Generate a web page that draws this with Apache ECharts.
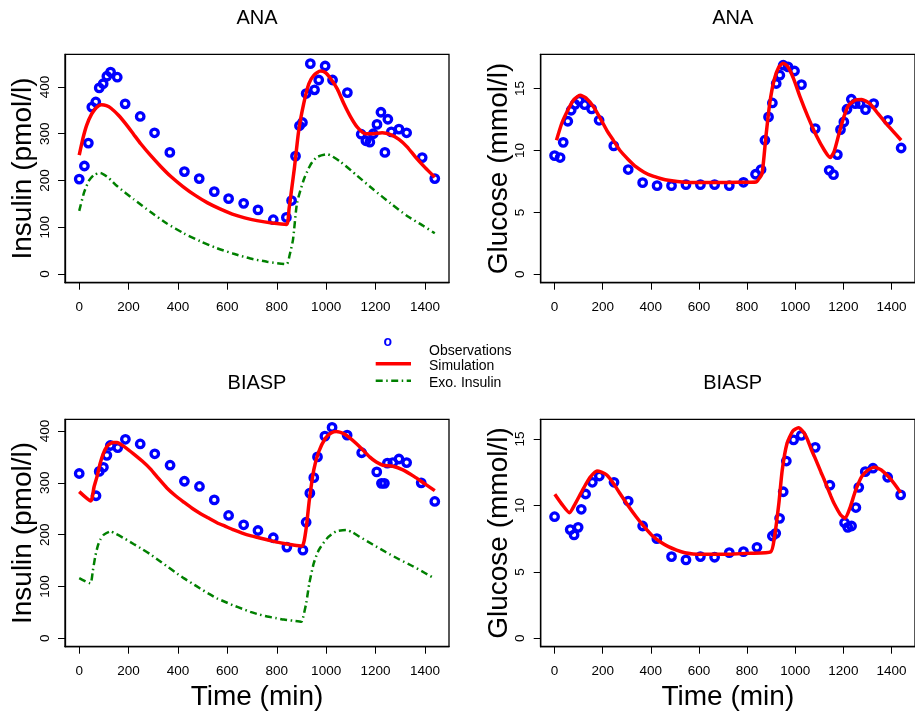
<!DOCTYPE html>
<html>
<head>
<meta charset="utf-8">
<script src="https://cdn.jsdelivr.net/npm/echarts@6/dist/echarts.min.js"></script>
<style>
html,body{margin:0;padding:0;background:#fff;}
#chart{width:915px;height:717px;}
</style>
</head>
<body>
<div id="chart"></div>
<script>
// ---------- tick labels ----------
const timeTicks = [0, 200, 400, 600, 800, 1000, 1200, 1400];
const insulinTicks = [0, 100, 200, 300, 400];
const glucoseTicks = [0, 5, 10, 15];
const panelTitles = ['ANA', 'ANA', 'BIASP', 'BIASP'];
const legendLabels = ['Observations', 'Simulation', 'Exo. Insulin'];

// ---------- ANA insulin ----------
const anaInsulinObs = [[0,203],[21,231],[37,280],[51,357],[67,368],[81,398],[97,407],[112,423],[127,432],[154,421],[186,364],[247,337],[305,302],[367,260],[426,219],[486,204],[547,176],[605,161],[666,151],[724,137],[786,116],[839,121],[860,157],[876,252],[892,317],[904,324],[919,386],[936,450],[953,394],[970,415],[996,445],[1026,415],[1086,388],[1142,299],[1161,285],[1177,282],[1191,300],[1206,320],[1222,346],[1238,260],[1250,331],[1264,304],[1295,310],[1326,302],[1389,249],[1440,204]];
const anaInsulinSim = [[0,254],[15,290],[30,318],[50,342],[70,356],[90,362],[110,360],[130,354],[160,339],[190,320],[220,299],[250,278],[290,253],[330,230],[370,209],[420,187],[470,168],[520,152],[570,139],[620,128],[670,120],[720,114],[780,109],[840,106],[850,140],[860,180],[872,229],[889,307],[909,364],[930,407],[950,425],[977,434],[997,431],[1018,418],[1045,396],[1072,364],[1099,336],[1126,314],[1159,300],[1193,300],[1227,302],[1261,298],[1295,288],[1328,272],[1362,250],[1400,228],[1440,207]];
const anaInsulinExo = [[0,135],[20,175],[40,200],[60,212],[85,216],[120,205],[153,188],[220,160],[288,133],[355,108],[423,87],[490,70],[558,55],[626,43],[693,33],[761,26],[840,21],[852,40],[866,74],[882,151],[909,201],[936,233],[963,250],[1004,256],[1058,240],[1126,210],[1193,180],[1261,151],[1328,124],[1390,104],[1440,87]];

// ---------- ANA glucose ----------
const anaGlucoseObs = [[0,9.59],[23,9.43],[36,10.66],[55,12.36],[69,13.25],[85,13.73],[102,14.06],[125,13.7],[154,13.36],[185,12.44],[246,10.37],[306,8.46],[366,7.4],[426,7.16],[486,7.16],[546,7.24],[606,7.24],[665,7.24],[726,7.16],[785,7.43],[835,8.08],[858,8.46],[874,10.83],[889,12.71],[905,13.84],[921,15.41],[936,16.08],[950,16.89],[970,16.75],[997,16.42],[1026,15.32],[1083,11.77],[1141,8.4],[1159,8.05],[1175,9.67],[1188,11.69],[1202,12.31],[1215,13.33],[1233,14.14],[1249,13.79],[1269,13.79],[1292,13.3],[1326,13.79],[1385,12.44],[1440,10.2]];
const anaGlucoseSim = [[8,10.83],[30,12.2],[55,13.25],[80,14.1],[106,14.46],[130,14.25],[163,13.5],[190,12.6],[217,11.63],[245,10.8],[271,10.02],[305,9.3],[339,8.67],[372,8.25],[406,7.94],[440,7.74],[473,7.59],[541,7.43],[608,7.41],[676,7.41],[760,7.43],[838,7.46],[845,7.6],[862,8.13],[878,11.1],[894,13.79],[912,15.67],[932,16.75],[950,17.05],[970,16.75],[993,15.81],[1020,14.33],[1053,12.71],[1087,11.23],[1121,10.02],[1145,9.43],[1161,9.88],[1182,11.37],[1202,12.71],[1222,13.65],[1249,14.06],[1276,14.11],[1310,13.79],[1344,12.98],[1390,11.9],[1440,10.83]];

// ---------- BIASP insulin ----------
const biaspInsulinObs = [[0,318],[68,275],[81,322],[98,330],[112,353],[126,372],[156,368],[187,384],[247,375],[306,356],[368,334],[426,303],[487,293],[547,267],[605,237],[666,219],[724,208],[786,194],[841,176],[906,170],[919,224],[934,280],[950,310],[965,350],[995,390],[1024,407],[1085,392],[1144,358],[1205,321],[1224,299],[1236,299],[1248,338],[1270,339],[1295,346],[1326,339],[1385,300],[1440,264]];
const biaspInsulinSim = [[0,283],[47,265],[60,292],[72,312],[85,338],[98,357],[112,370],[126,376],[139,378],[153,378],[185,369],[220,356],[255,342],[288,327],[320,309],[355,290],[390,275],[423,263],[457,251],[490,241],[524,232],[558,223],[592,216],[626,209],[660,203],[693,198],[727,194],[761,190],[795,186],[829,183],[866,180],[903,178],[919,212],[932,267],[950,325],[970,360],[997,386],[1020,396],[1041,399],[1074,394],[1098,386],[1122,376],[1150,363],[1176,350],[1203,340],[1230,334],[1270,332],[1311,325],[1357,312],[1400,298],[1440,285]];
const biaspInsulinExo = [[0,116],[45,106],[55,130],[65,158],[75,178],[85,190],[100,200],[126,206],[150,201],[185,192],[220,182],[255,172],[288,162],[320,151],[355,139],[390,127],[423,116],[457,106],[490,96],[524,86],[558,77],[592,70],[626,63],[660,57],[693,51],[727,46],[761,42],[795,39],[829,36],[865,34],[900,32],[906,39],[919,67],[932,106],[950,145],[970,170],[1004,193],[1040,206],[1081,209],[1108,204],[1135,196],[1189,181],[1243,166],[1297,152],[1351,139],[1400,126],[1440,115]];

// ---------- BIASP glucose ----------
const biaspGlucoseObs = [[0,9.15],[65,8.18],[81,7.78],[98,8.35],[111,9.71],[129,10.86],[157,11.74],[186,12.21],[247,11.74],[306,10.33],[366,8.45],[425,7.5],[486,6.15],[546,5.9],[606,6.15],[665,6.1],[726,6.45],[785,6.52],[841,6.85],[905,7.7],[919,7.9],[935,9.03],[950,11.03],[963,13.34],[993,14.93],[1025,15.27],[1083,14.37],[1144,11.52],[1205,8.7],[1218,8.35],[1234,8.45],[1252,9.84],[1264,11.36],[1291,12.54],[1323,12.8],[1384,12.12],[1438,10.79]];
const biaspGlucoseSim = [[1,10.84],[30,10.1],[62,9.45],[85,10.1],[109,10.91],[130,11.6],[150,12.16],[176,12.59],[195,12.5],[217,12.29],[245,11.65],[271,10.91],[305,10.0],[339,9.15],[372,8.4],[406,7.72],[440,7.25],[473,6.9],[507,6.64],[541,6.44],[575,6.35],[608,6.32],[676,6.32],[743,6.35],[810,6.4],[898,6.5],[914,7.65],[932,10.16],[946,12.67],[966,14.68],[990,15.6],[1013,15.85],[1035,15.5],[1050,15.0],[1067,14.2],[1080,13.67],[1107,12.5],[1121,11.91],[1148,10.7],[1161,10.16],[1188,9.3],[1207,9.03],[1229,9.9],[1249,11.03],[1276,12.16],[1303,12.67],[1330,12.87],[1357,12.67],[1400,11.9],[1438,10.96]];

// ---------- build chart ----------
const FONT = '"Liberation Sans", Arial, Helvetica, sans-serif';
const grids = [
  {left: 65, top: 54.3, width: 384, height: 228.4},
  {left: 540.7, top: 54.3, width: 384, height: 228.4},
  {left: 65, top: 419.3, width: 384, height: 227.4},
  {left: 540.7, top: 419.3, width: 384, height: 227.4}
];
const yRanges = [[-18.8, 470], [-0.68, 17.77], [-16.3, 422.6], [-0.63, 16.48]];
const yNames = ['Insulin (pmol/l)', 'Glucose (mmol/l)', 'Insulin (pmol/l)', 'Glucose (mmol/l)'];
const yTickSets = [insulinTicks, glucoseTicks, insulinTicks, glucoseTicks];

const chart = echarts.init(document.getElementById('chart'), null, {renderer: 'canvas'});
const plain = v => String(Math.round(v * 1000) / 1000);
const axisLineStyle = {show: true, onZero: false, lineStyle: {color: '#000', width: 1.3}};

const xAxes = grids.map((g, i) => ({
  type: 'value', gridIndex: i, min: -57.6, max: 1497.6, position: 'bottom',
  axisLine: axisLineStyle, splitLine: {show: false},
  axisTick: {show: true, inside: false, length: 7, lineStyle: {color: '#000', width: 1}, customValues: timeTicks},
  axisLabel: {customValues: timeTicks, formatter: plain, margin: 18, fontSize: 13.5, color: '#000', fontFamily: FONT},
  name: i >= 2 ? 'Time (min)' : '', nameLocation: 'middle', nameGap: 37,
  nameTextStyle: {fontSize: 28, color: '#000', fontFamily: FONT}
}));
const yAxes = grids.map((g, i) => ({
  type: 'value', gridIndex: i, min: yRanges[i][0], max: yRanges[i][1], position: 'left',
  axisLine: axisLineStyle, splitLine: {show: false},
  axisTick: {show: true, inside: false, length: 7, lineStyle: {color: '#000', width: 1}, customValues: yTickSets[i]},
  axisLabel: {customValues: yTickSets[i], formatter: plain, rotate: 90, margin: 13, fontSize: 13.5, color: '#000', fontFamily: FONT},
  name: yNames[i], nameLocation: 'middle', nameRotate: 90, nameGap: 26,
  nameTextStyle: {fontSize: 28, color: '#000', fontFamily: FONT}
}));

function obs(data, i) {
  return {type: 'scatter', xAxisIndex: i, yAxisIndex: i, data: data, symbol: 'circle', symbolSize: 7.5,
    itemStyle: {color: 'rgba(255,255,255,0)', borderColor: '#0000ff', borderWidth: 3.3, opacity: 1}, z: 2, silent: true};
}
function sim(data, i) {
  return {type: 'line', xAxisIndex: i, yAxisIndex: i, data: data, showSymbol: false, smooth: 0.2,
    lineStyle: {color: '#ff0000', width: 3.5}, z: 3, silent: true};
}
function exo(data, i) {
  return {type: 'line', xAxisIndex: i, yAxisIndex: i, data: data, showSymbol: false, smooth: 0.2,
    lineStyle: {color: '#008000', width: 2.5, type: [7, 3.5, 1.5, 3.5]}, z: 3, silent: true};
}

const series = [
  obs(anaInsulinObs, 0), sim(anaInsulinSim, 0), exo(anaInsulinExo, 0),
  obs(anaGlucoseObs, 1), sim(anaGlucoseSim, 1),
  obs(biaspInsulinObs, 2), sim(biaspInsulinSim, 2), exo(biaspInsulinExo, 2),
  obs(biaspGlucoseObs, 3), sim(biaspGlucoseSim, 3)
];

const titleCenters = [[257, 18], [732.7, 18], [257, 383.3], [732.7, 383.3]];
const graphics = titleCenters.map((c, i) => ({
  type: 'text', x: c[0], y: c[1], silent: true,
  style: {text: panelTitles[i], fill: '#000', font: '20px ' + FONT, textAlign: 'center', textVerticalAlign: 'middle'}
}));
// legend
graphics.push({type: 'text', x: 387.7, y: 342.5, silent: true,
  style: {text: 'o', fill: '#0000ff', font: 'bold 14px ' + FONT, textAlign: 'center', textVerticalAlign: 'middle'}});
graphics.push({type: 'line', silent: true, shape: {x1: 375.7, y1: 363.7, x2: 411, y2: 363.7},
  style: {stroke: '#ff0000', lineWidth: 3.5}});
graphics.push({type: 'line', silent: true, shape: {x1: 375.7, y1: 380.7, x2: 411, y2: 380.7},
  style: {stroke: '#008000', lineWidth: 2.5, lineDash: [7, 3.5, 1.5, 3.5]}});
const legendY = [350.7, 366.3, 382.7];
legendLabels.forEach((t, k) => graphics.push({type: 'text', x: 429, y: legendY[k], silent: true,
  style: {text: t, fill: '#000', font: '14px ' + FONT, textAlign: 'left', textVerticalAlign: 'middle'}}));

chart.setOption({
  animation: false,
  backgroundColor: '#fff',
  grid: grids.map(g => Object.assign({show: true, borderColor: '#000', borderWidth: 1.3, backgroundColor: 'transparent'}, g)),
  xAxis: xAxes,
  yAxis: yAxes,
  series: series,
  graphic: graphics
});
</script>
</body>
</html>
